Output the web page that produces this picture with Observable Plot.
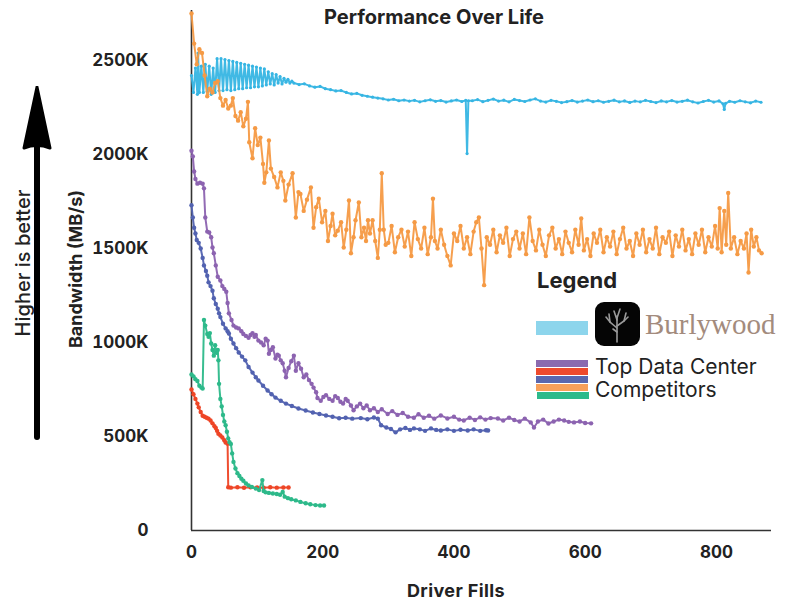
<!DOCTYPE html>
<html>
<head>
<meta charset="utf-8">
<script src="https://cdn.jsdelivr.net/npm/d3@7"></script>
<script src="https://cdn.jsdelivr.net/npm/@observablehq/plot@0.6"></script>
<style>
  html, body { margin: 0; padding: 0; background: #fff; }
  #wrap { position: relative; width: 792px; height: 602px; overflow: hidden; font-family: Inter, "Noto Sans", sans-serif; color: #222; }
  #chart { position: absolute; left: 0; top: 0; }
  .abs { position: absolute; white-space: nowrap; }
</style>
</head>
<body>
<div id="wrap">
  <div id="chart"></div>
</div>
<script>
// ---------- DATA (x = driver fills, y = bandwidth in K MB/s) ----------
const xTicks = [0, 200, 400, 600, 800];
const yTicks = [0, 500, 1000, 1500, 2000, 2500];

const burlywood = [
  [0,2420],[3,2330],[6,2460],[9,2320],[10,2540],[12,2330],[15,2470],[18,2330],[21,2480],[24,2335],[27,2470],[30,2320],[33,2460],[36,2330],
  [39,2510],[42,2340],[45,2510],[48,2340],[51,2505],[54,2345],[57,2500],[60,2340],[63,2495],[66,2345],[69,2490],[72,2350],[75,2485],[78,2350],
  [81,2480],[84,2355],[87,2475],[90,2355],[93,2470],[96,2360],[99,2465],[102,2360],[105,2460],[108,2365],[111,2455],
  [114,2370],[117,2440],[120,2375],[123,2430],[126,2370],[129,2425],[132,2380],[135,2415],[138,2375],[141,2405],[144,2385],[147,2400],[150,2380],[153,2390],
  [156,2380],[164,2372],[172,2376],[180,2365],[188,2358],[196,2362],[204,2350],[212,2345],[220,2338],[228,2340],[236,2330],[244,2322],[252,2325],
  [260,2315],[268,2310],[276,2305],[284,2300],[292,2296],[300,2290],[308,2294],[316,2286],[324,2290],[332,2284],[340,2288],[348,2280],[356,2286],
  [364,2291],[372,2283],[380,2287],[388,2279],[396,2285],[404,2290],[412,2282],[418,2288],[420,2005],[422,2286],[428,2286],[436,2292],[444,2281],
  [452,2288],[460,2295],[468,2284],[476,2289],[484,2280],[492,2293],[500,2287],[508,2282],[516,2290],[524,2296],[532,2284],[540,2279],[548,2288],
  [556,2283],[564,2276],[572,2281],[580,2287],[588,2279],[596,2284],[604,2290],[612,2281],[620,2286],[628,2278],[636,2283],[644,2289],[652,2280],
  [660,2285],[668,2277],[676,2284],[684,2280],[692,2288],[700,2282],[708,2276],[716,2285],[724,2280],[732,2287],[740,2279],[748,2283],[756,2289],
  [764,2280],[772,2274],[780,2282],[788,2288],[796,2279],[804,2285],[810,2270],[812,2240],[814,2272],[820,2283],[828,2278],[836,2286],[844,2280],
  [852,2275],[860,2284],[868,2278]
];

const orange = [
  [0,2750],[4,2590],[8,2480],[12,2560],[16,2540],[20,2420],[24,2310],[28,2350],[32,2330],[36,2380],[40,2390],[44,2300],[48,2260],[52,2290],
  [56,2245],[60,2260],[63,2300],[67,2205],[71,2180],[75,2225],[79,2150],[83,2190],[86,2280],[88,2065],[93,1980],[97,2140],[101,2050],[105,2090],
  [109,1950],[111,1850],[114,1905],[118,2075],[121,1925],[126,1880],[131,1825],[136,1905],[140,1860],[143,1755],[148,1840],[154,1900],[159,1665],
  [163,1800],[166,1790],[171,1700],[176,1760],[182,1825],[186,1610],[190,1720],[194,1765],[199,1640],[204,1700],[208,1540],[212,1620],[215,1685],
  [219,1570],[223,1595],[228,1640],[232,1505],[236,1600],[240,1755],[243,1475],[247,1560],[250,1650],[255,1745],[259,1560],[263,1610],[266,1540],
  [269,1650],[272,1580],[276,1650],[280,1540],[284,1450],[287,1600],[290,1900],[293,1600],[296,1520],
  [300,1530],[305,1620],[310,1480],[315,1560],[320,1600],[325,1510],[330,1590],[335,1460],[340,1640],[345,1550],[350,1500],[355,1610],[360,1470],
  [365,1560],[368,1765],[371,1540],[375,1500],[380,1600],[385,1520],[390,1460],[395,1410],[400,1580],[405,1540],[410,1620],[415,1500],[420,1560],
  [425,1470],[430,1590],[434,1640],[438,1665],[442,1500],[446,1305],[450,1560],[455,1520],[460,1600],[465,1480],[470,1570],[475,1530],[480,1610],
  [485,1460],[490,1550],[495,1590],[500,1500],[505,1580],[510,1470],[515,1665],[520,1540],[525,1490],[530,1600],[535,1520],[540,1460],[545,1570],
  [550,1610],[555,1500],[560,1550],[565,1470],[570,1590],[575,1530],[580,1480],[585,1600],[590,1520],[594,1660],[598,1490],[603,1550],[608,1460],
  [613,1580],[618,1530],[623,1600],[628,1480],[633,1560],[638,1510],[643,1590],[648,1470],[653,1550],[658,1610],[663,1500],[668,1540],[673,1460],
  [678,1580],[683,1520],[688,1600],[693,1480],[698,1550],[703,1500],[708,1610],[713,1470],[718,1560],[723,1530],[728,1590],[733,1460],[738,1570],
  [743,1510],[748,1600],[753,1490],[758,1550],[763,1470],[768,1580],[773,1520],[778,1600],[783,1480],[788,1560],[793,1510],[798,1620],[802,1500],
  [805,1715],[808,1480],[812,1700],[815,1520],[818,1795],[822,1500],[827,1560],[832,1470],[837,1540],[842,1500],[846,1580],[849,1372],[853,1600],
  [857,1510],[861,1560],[865,1490],[869,1475]
];

const purple = [
  [0,2020],[2,1990],[4,1910],[6,1870],[9,1845],[13,1850],[17,1845],[19,1820],[21,1665],[24,1590],[27,1585],[30,1560],[32,1505],[34,1475],
  [37,1410],[40,1350],[44,1330],[47,1300],[50,1285],[53,1270],[55,1210],[57,1155],[61,1120],[64,1090],[68,1080],[72,1075],[76,1060],[79,1045],
  [83,1035],[87,1025],[90,1040],[93,1050],[96,1030],[98,1040],[102,1010],[106,1000],[110,985],[113,1020],[116,1010],[118,940],[121,960],[124,975],
  [128,915],[131,935],[133,930],[136,905],[139,890],[142,850],[144,815],[148,865],[152,900],[156,930],[159,850],[163,890],[167,860],[171,815],
  [175,830],[179,800],[183,780],[186,760],[190,735],[192,705],[197,690],[201,710],[205,720],[210,700],[215,690],[219,715],[223,705],[227,685],
  [231,675],[235,700],[238,690],[243,665],[247,640],[252,660],[257,675],[262,650],[267,665],[272,640],[278,650],[284,630],[290,645],[299,620],
  [306,635],[314,615],[322,625],[330,605],[339,600],[346,618],[354,600],[362,610],[370,595],[380,612],[390,596],[400,605],[408,590],[415,585],
  [424,600],[432,588],[440,602],[448,590],[456,598],[467,596],[475,585],[484,600],[492,588],[500,580],[508,595],[517,575],[522,548],[528,580],
  [536,590],[544,569],[552,580],[560,590],[568,585],[575,578],[583,575],[592,580],[600,572],[609,570]
];

const darkBlue = [
  [0,1730],[2,1665],[4,1610],[6,1580],[8,1545],[11,1530],[14,1500],[17,1450],[19,1410],[22,1380],[24,1355],[26,1320],[29,1300],[32,1275],
  [34,1235],[37,1205],[40,1180],[42,1155],[44,1135],[48,1100],[52,1075],[55,1060],[57,1048],[60,1020],[64,995],[68,970],[72,947],[77,925],
  [82,905],[87,870],[93,840],[98,815],[102,798],[109,770],[116,745],[122,725],[128,707],[136,690],[144,675],[153,662],[163,649],[174,638],
  [185,628],[195,620],[205,612],[215,605],[225,597],[235,600],[245,595],[258,598],[268,592],[278,601],[284,595],[289,560],[297,548],[304,540],
  [311,522],[318,538],[326,545],[333,535],[339,543],[348,538],[356,530],[365,543],[373,535],[380,532],[390,538],[400,530],[410,536],[421,532],
  [430,538],[440,530],[449,533],[452,532]
];

const green = [
  [0,830],[3,820],[6,805],[9,795],[12,770],[15,760],[17,755],[19,1120],[21,1090],[24,1045],[26,1030],[28,1050],[30,995],[32,960],[34,930],
  [36,985],[38,945],[40,960],[41,905],[42,780],[44,700],[46,660],[48,615],[50,580],[52,560],[54,525],[56,490],[58,470],[60,460],[62,410],
  [64,365],[67,330],[70,305],[73,290],[76,275],[79,265],[83,250],[87,240],[92,232],[98,223],[103,215],[108,268],[110,210],[113,203],[118,200],
  [124,197],[130,194],[135,190],[139,205],[142,180],[147,172],[152,166],[159,160],[166,152],[174,145],[181,140],[189,135],[196,133],[202,133]
];

const red = [
  [0,750],[3,725],[6,700],[9,675],[11,655],[14,630],[17,610],[20,605],[23,600],[26,595],[29,585],[32,570],[35,555],[37,545],[39,530],[41,515],
  [44,505],[47,495],[50,480],[52,468],[55,462],[56,230],[60,228],[70,230],[80,227],[90,230],[100,229],[110,227],[120,230],[130,228],[140,229],[148,229]
];

const seriesNames = ["Burlywood", "Competitor A", "Competitor B", "Competitor C", "Competitor D", "Competitor E"];
const seriesColors = ["#36b5e3", "#f59a45", "#8c63b0", "#5262b0", "#2db98a", "#ee4526"];
const seriesData = [burlywood, orange, purple, darkBlue, green, red];

const legendTitle = "Legend";
const legendBrand = "Burlywood";
const legendCompetitors = ["Top Data Center", "Competitors"];
const legendBarColors = ["#8b6aaf", "#ee4a2c", "#5a67ae", "#f7a05a", "#2dba8b"];
const legendBrandColor = "#8dd5ec";

// ---------- CHART ----------
const marks = [
  Plot.ruleX([0], {stroke: "#333", strokeWidth: 1.6}),
  Plot.ruleY([0], {stroke: "#333", strokeWidth: 1.6}),
  Plot.axisX({ticks: xTicks, tickSize: 0, tickPadding: 15, label: null, fontSize: 17, fontWeight: 700}),
  Plot.axisY({ticks: yTicks, tickSize: 0, tickPadding: 43, label: null, fontSize: 17, fontWeight: 700,
              tickFormat: d => d === 0 ? "0" : d + "K"})
];
const drawOrder = [0, 1, 2, 3, 5, 4];
for (const i of drawOrder) {
  const data = seriesData[i];
  marks.push(Plot.line(data, {x: d => d[0], y: d => d[1], stroke: seriesColors[i], strokeWidth: 2, strokeOpacity: 0.95}));
  marks.push(Plot.dot(data, {x: d => d[0], y: d => d[1], fill: seriesColors[i], r: i === 0 ? 1.6 : 2.2}));
}

const chart = Plot.plot({
  width: 792,
  height: 602,
  marginLeft: 191,
  marginRight: 21,
  marginTop: 10,
  marginBottom: 72,
  x: {domain: [0, 884]},
  y: {domain: [0, 2766]},
  style: {fontFamily: "Inter, 'Noto Sans', sans-serif", color: "#222", background: "transparent", overflow: "visible"},
  marks
});
document.getElementById("chart").appendChild(chart);

// ---------- TEXT / LEGEND OVERLAYS ----------
const wrap = document.getElementById("wrap");
function addDiv(html, css) {
  const d = document.createElement("div");
  d.className = "abs";
  d.innerHTML = html;
  Object.assign(d.style, css);
  wrap.appendChild(d);
  return d;
}
addDiv("Performance Over Life", {left: "434px", top: "17px", transform: "translate(-50%,-50%)", fontSize: "20px", fontWeight: "700"});
addDiv("Driver Fills", {left: "456px", top: "590px", transform: "translate(-50%,-50%)", fontSize: "18px", fontWeight: "700", letterSpacing: "0.4px"});
addDiv("Bandwidth (MB/s)", {left: "75px", top: "269px", transform: "translate(-50%,-50%) rotate(-90deg)", fontSize: "18px", fontWeight: "700"});
addDiv("Higher is better", {left: "23px", top: "263px", transform: "translate(-50%,-50%) rotate(-90deg)", fontSize: "20px", fontWeight: "500"});

// arrow
addDiv(`<svg width="60" height="360" viewBox="0 0 60 360">
  <line x1="37" y1="50" x2="37" y2="351" stroke="#000" stroke-width="6" stroke-linecap="round"/>
  <path d="M37 1 L50 62 Q37 57 24 62 Z" fill="#000" stroke="#000" stroke-width="3" stroke-linejoin="round"/>
</svg>`, {left: "0px", top: "86px"});

// legend
addDiv(legendTitle, {left: "537px", top: "280px", transform: "translateY(-50%)", fontSize: "22px", fontWeight: "700"});
addDiv("", {left: "536px", top: "321px", width: "52px", height: "14px", background: legendBrandColor});
addDiv(`<svg width="45" height="44" viewBox="0 0 45 44">
  <rect x="0" y="0" width="45" height="44" rx="9" fill="#050505"/>
  <g stroke="#9a9a9a" stroke-width="1.6" fill="none" stroke-linecap="round">
    <path d="M22 40 L22 14"/>
    <path d="M22 26 L15 20 L14 12"/>
    <path d="M22 24 L29 19 L31 11"/>
    <path d="M22 18 L19 9"/>
    <path d="M22 16 L25 7"/>
    <path d="M15 20 L11 15"/>
    <path d="M29 19 L33 15"/>
    <path d="M22 30 L18 27"/>
  </g>
</svg>`, {left: "595px", top: "302px", lineHeight: "0"});
addDiv(legendBrand, {left: "645px", top: "324px", transform: "translateY(-50%)", fontSize: "29px", fontFamily: "'Liberation Serif', 'DejaVu Serif', serif", color: "#a38b7d"});
legendBarColors.forEach((c, i) => {
  addDiv("", {left: (i === 4 ? 537 : 536) + "px", top: (360 + i * 8) + "px", width: "52px", height: "7px", background: c});
});
addDiv(legendCompetitors[0], {left: "595px", top: "356px", fontSize: "21px", lineHeight: "22px", fontWeight: "400"});
addDiv(legendCompetitors[1], {left: "595px", top: "379px", fontSize: "21px", lineHeight: "22px", fontWeight: "400"});
</script>
</body>
</html>
